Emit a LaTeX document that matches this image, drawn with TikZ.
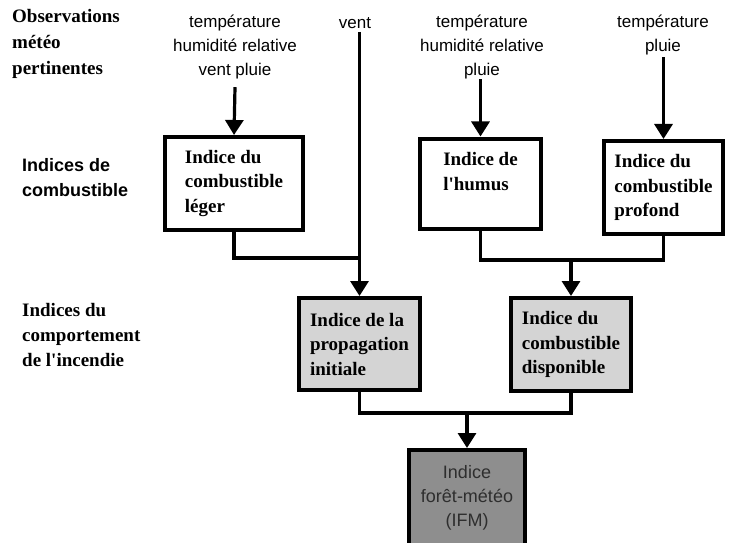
\documentclass[tikz,border=0pt]{standalone}
\usepackage{fontspec}
\setmainfont{Liberation Serif}
\setsansfont{Liberation Sans}
\usetikzlibrary{arrows.meta}
\definecolor{lightbox}{HTML}{D4D4D4}
\definecolor{darkbox}{HTML}{8E8E8E}
\definecolor{ifmtext}{HTML}{2E2E2E}
\begin{document}
\begin{tikzpicture}[x=1pt,y=-1pt,
  wbox/.style={draw=black, line width=4pt, fill=white, align=left, inner sep=0pt,
    font=\bfseries\fontsize{19}{24.5}\selectfont},
  gbox/.style={wbox, fill=lightbox},
  ifmbox/.style={draw=black, line width=4pt, fill=darkbox, align=center, inner sep=0pt,
    text=ifmtext, font=\sffamily\fontsize{18}{24}\selectfont},
  conn/.style={line width=3.2pt},
  arr/.style={conn, -{Triangle[width=18pt,length=15pt]}},
  obs/.style={font=\sffamily\fontsize{17}{24}\selectfont, align=center, inner sep=0pt},
  rowserif/.style={font=\bfseries\fontsize{19}{26}\selectfont, align=left, inner sep=0pt, anchor=west},
  rowsans/.style={font=\sffamily\bfseries\fontsize{18}{25}\selectfont, align=left, inner sep=0pt, anchor=west},
]
\useasboundingbox (0,0) rectangle (729,543);
\clip (0,0) rectangle (729,543);

% row labels
\node[rowserif] (L1) at (12,44) {Observations\\météo\\pertinentes};
\node[rowsans]  (L2) at (22,178) {Indices de\\combustible};
\node[rowserif, font=\bfseries\fontsize{19}{25}\selectfont] (L3) at (22,335) {Indices du\\comportement\\de l\textquotesingle incendie};

% observations
\node[obs] (t1) at (235,47) {température\\humidité relative\\vent pluie};
\node[obs] (v)  at (355,23) {vent};
\node[obs] (t2) at (482,47) {température\\humidité relative\\pluie};
\node[obs] (t3) at (663,35) {température\\pluie};

% boxes
\node[wbox, minimum width=138pt, minimum height=93pt] (A) at (234,183.5) {Indice du\\combustible\\léger};
\node[wbox, minimum width=121pt, minimum height=90pt] (B) at (480.5,183.5) {Indice de\\l\textquotesingle humus\\~};
\node[wbox, minimum width=119pt, minimum height=93pt] (C) at (663.5,187.5) {Indice du\\combustible\\profond};
\node[gbox, minimum width=121pt, minimum height=92pt] (D) at (359.5,344) {Indice de la\\propagation\\initiale};
\node[gbox, minimum width=120pt, minimum height=93pt] (E) at (571,344.5) {Indice du\\combustible\\disponible};
\node[ifmbox, minimum width=116pt, minimum height=96pt] (F) at (467,498) {Indice\\forêt-météo\\(IFM)};

% connectors
\coordinate (jA) at (359.5,258);
\coordinate (jBE) at (571,260);
\coordinate (jDE) at (467,413);

\draw[arr] ([yshift=-8pt]t1.south) -- (A.north);
\draw[arr] (t2.south -| B.north) -- (B.north);
\draw[arr] ([yshift=-2pt]t3.south -| C.north) -- (C.north);
\draw[arr] ([yshift=-3pt]v.south -| D.north) -- (D.north);
\draw[conn] (A.south) |- (jA);
\draw[conn] (B.south) |- (jBE) -| (C.south);
\draw[arr] (jBE) -- (E.north);
\draw[conn] (D.south) |- (jDE) -| (E.south);
\draw[arr] (jDE) -- (F.north);
\end{tikzpicture}
\end{document}
